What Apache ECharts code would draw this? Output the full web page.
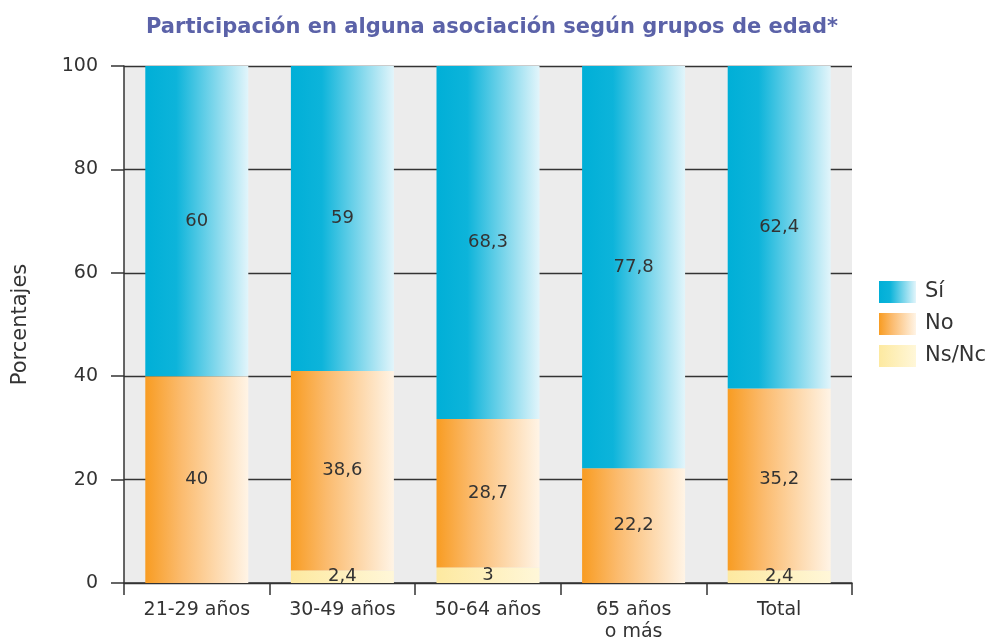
<!DOCTYPE html>
<html>
<head>
<meta charset="utf-8">
<script src="https://cdn.jsdelivr.net/npm/echarts@6/dist/echarts.min.js"></script>
<style>
  html, body { margin: 0; padding: 0; background: #fff; }
  #chart { width: 994px; height: 641px; }
</style>
</head>
<body>
<div id="chart"></div>
<script>
var categories = ['21-29 años', '30-49 años', '50-64 años', '65 años\no más', 'Total'];
var nsncValues = [null, 2.4, 3, null, 2.4];
var noValues = [40, 38.6, 28.7, 22.2, 35.2];
var siValues = [60, 59, 68.3, 77.8, 62.4];
var yTicks = [0, 20, 40, 60, 80, 100];

var fontFamily = '"DejaVu Sans", "Noto Sans", sans-serif';

function grad(stops) {
	return new echarts.graphic.LinearGradient(0, 0, 1, 0, stops);
}

var siColor = grad([
	{ offset: 0, color: '#00afd7' },
	{ offset: 0.3, color: '#0db4da' },
	{ offset: 1, color: '#e2f5fb' }
]);
var noColor = grad([
	{ offset: 0, color: '#f89c22' },
	{ offset: 0.35, color: '#fbbb6e' },
	{ offset: 1, color: '#fff4e6' }
]);
var nsColor = grad([
	{ offset: 0, color: '#fde9a0' },
	{ offset: 1, color: '#fff7d9' }
]);

function fmt(p) {
	if (p.value == null) return '';
	return String(p.value).replace('.', ',');
}

var labelStyle = {
	show: true,
	position: 'inside',
	color: '#333',
	fontSize: 18,
	fontFamily: fontFamily,
	formatter: fmt
};

var myChart = echarts.init(document.getElementById('chart'));
var option = {
	animation: false,
	title: {
		text: 'Participación en alguna asociación según grupos de edad*',
		left: 487,
		textAlign: 'center',
		top: 12,
		textStyle: {
			color: '#5b62a8',
			fontSize: 21,
			fontWeight: 'bold',
			fontFamily: fontFamily
		}
	},
	legend: {
		orient: 'vertical',
		left: 879,
		top: 281,
		padding: 0,
		icon: 'rect',
		itemWidth: 37,
		itemHeight: 22,
		itemGap: 10,
		data: ['Sí', 'No', 'Ns/Nc'],
		textStyle: {
			color: '#333',
			fontSize: 21,
			fontFamily: fontFamily,
			padding: [0, 0, 0, 4]
		}
	},
	grid: {
		left: 124,
		right: 142,
		top: 66,
		bottom: 58,
		containLabel: false,
		outerBoundsMode: 'none',
		show: true,
		backgroundColor: '#ececec',
		borderWidth: 0
	},
	xAxis: {
		type: 'category',
		data: categories,
		axisLine: { lineStyle: { color: '#333', width: 1.5 } },
		axisTick: { show: true, length: 12, lineStyle: { color: '#333', width: 1.5 } },
		axisLabel: {
			color: '#333',
			fontSize: 19,
			fontFamily: fontFamily,
			margin: 16,
			lineHeight: 22
		}
	},
	yAxis: {
		type: 'value',
		min: yTicks[0],
		max: yTicks[yTicks.length - 1],
		interval: 20,
		name: 'Porcentajes',
		nameLocation: 'middle',
		nameGap: 93,
		nameTextStyle: {
			color: '#333',
			fontSize: 21,
			fontFamily: fontFamily
		},
		axisLine: { show: true, lineStyle: { color: '#333', width: 1.5 } },
		axisTick: { show: true, length: 13, lineStyle: { color: '#333', width: 1.5 } },
		axisLabel: {
			color: '#333',
			fontSize: 19,
			fontFamily: fontFamily,
			margin: 26
		},
		splitLine: { show: true, lineStyle: { color: '#333', width: 1.3 } }
	},
	series: [
		{
			name: 'Ns/Nc',
			type: 'bar',
			stack: 'total',
			barWidth: 103,
			data: nsncValues,
			itemStyle: { color: nsColor },
			label: labelStyle
		},
		{
			name: 'No',
			type: 'bar',
			stack: 'total',
			barWidth: 103,
			data: noValues,
			itemStyle: { color: noColor },
			label: labelStyle
		},
		{
			name: 'Sí',
			type: 'bar',
			stack: 'total',
			barWidth: 103,
			data: siValues,
			itemStyle: { color: siColor },
			label: labelStyle
		}
	]
};
myChart.setOption(option);
</script>
</body>
</html>
